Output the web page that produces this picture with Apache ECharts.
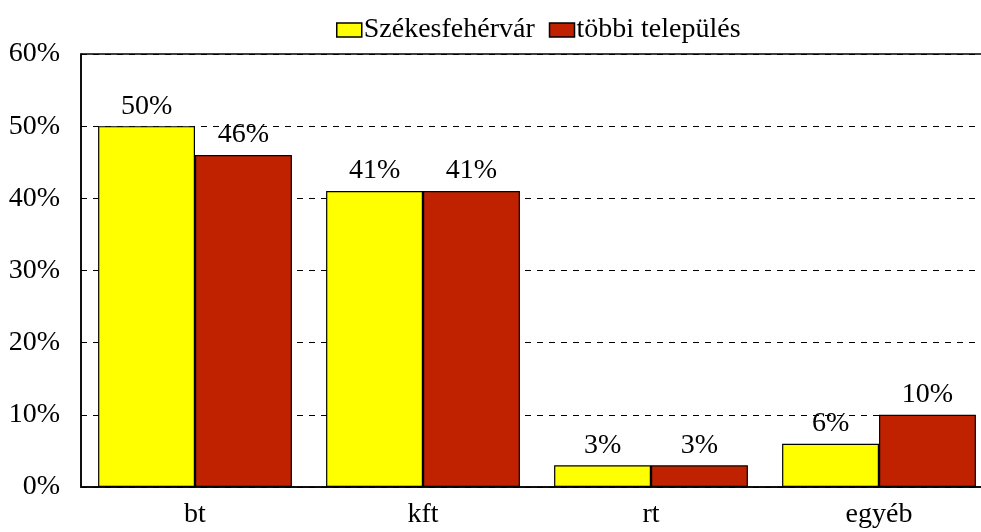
<!DOCTYPE html>
<html>
<head>
<meta charset="utf-8">
<script src="https://cdn.jsdelivr.net/npm/echarts@6/dist/echarts.min.js"></script>
<style>
  html, body { margin: 0; padding: 0; background: #fff; overflow: hidden; }
  /* the plot runs past the right edge of the window, like the original */
  #chart { width: 993px; height: 532px; }
</style>
</head>
<body>
<div id="chart"></div>
<script>
const categories = ['bt', 'kft', 'rt', 'egyéb'];
const szekesfehervar = [50, 41, 3, 6];
const tobbiTelepules = [46, 41, 3, 10];
const yTicks = [0, 10, 20, 30, 40, 50, 60];

const font = 'Liberation Serif';
const fontSize = 28;

const chart = echarts.init(document.getElementById('chart'));

const labelStyle = {
  show: true,
  position: 'top',
  distance: 6,
  formatter: '{c}%',
  color: '#000',
  fontFamily: font,
  fontSize: fontSize
};

chart.setOption({
  animation: false,
  legend: {
    top: 11,
    left: 331,
    itemWidth: 25,
    itemHeight: 14,
    itemGap: 14,
    icon: 'rect',
    textStyle: { fontFamily: font, fontSize: fontSize, color: '#000', padding: [0, 0, 0, -3] },
    data: [
      { name: 'Székesfehérvár', itemStyle: { color: '#ffff00', borderColor: '#000', borderWidth: 1.5 } },
      { name: 'többi település', itemStyle: { color: '#c02200', borderColor: '#000', borderWidth: 1.5 } }
    ]
  },
  grid: {
    left: 81,
    top: 54,
    right: 0,
    bottom: 45,
    show: true,
    borderColor: '#000',
    borderWidth: 1.5
  },
  xAxis: {
    type: 'category',
    data: categories,
    axisLine: { lineStyle: { color: '#000', width: 1.5 } },
    axisTick: { show: false },
    axisLabel: { color: '#000', fontFamily: font, fontSize: fontSize, margin: 14 }
  },
  yAxis: {
    type: 'value',
    min: yTicks[0],
    max: yTicks[yTicks.length - 1],
    interval: 10,
    axisLine: { show: true, lineStyle: { color: '#000', width: 1.5 } },
    axisTick: { show: false },
    axisLabel: { color: '#000', fontFamily: font, fontSize: fontSize, margin: 21, formatter: '{value}%' },
    splitLine: { show: true, lineStyle: { color: '#000', type: [6, 6], width: 1 } }
  },
  series: [
    {
      name: 'Székesfehérvár',
      type: 'bar',
      data: szekesfehervar,
      barGap: '0%',
      barCategoryGap: '15%',
      itemStyle: { color: '#ffff00', borderColor: '#000', borderWidth: 1.2 },
      label: labelStyle
    },
    {
      name: 'többi település',
      type: 'bar',
      data: tobbiTelepules,
      itemStyle: { color: '#c02200', borderColor: '#000', borderWidth: 1.2 },
      label: labelStyle
    }
  ]
});
</script>
</body>
</html>
